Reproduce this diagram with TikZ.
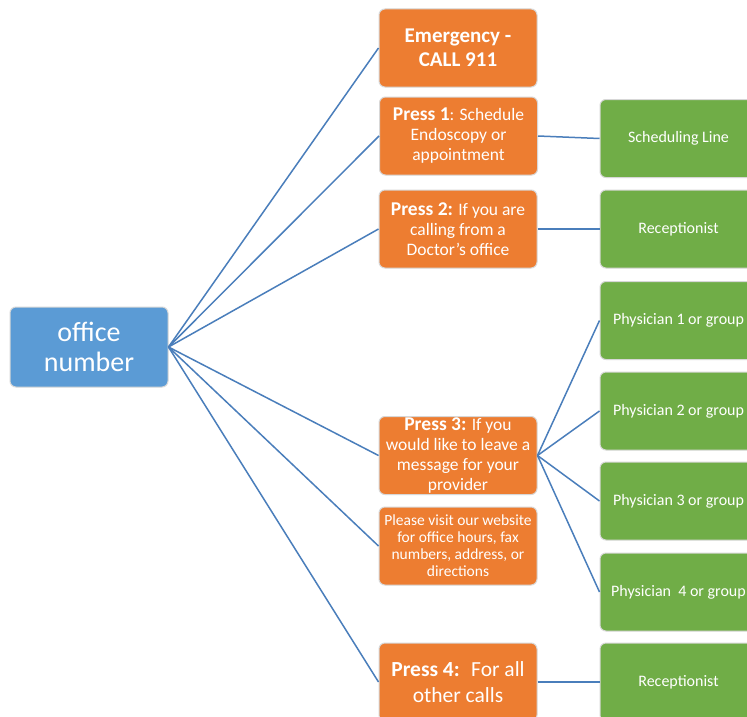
\documentclass[tikz,border=0pt]{standalone}
\usepackage{fontspec}
\setmainfont{Carlito}
\definecolor{cblue}{RGB}{91,155,213}
\definecolor{corange}{RGB}{237,125,49}
\definecolor{cgreen}{RGB}{112,173,71}
\definecolor{cline}{RGB}{74,126,187}
\definecolor{cedge}{RGB}{215,215,215}
\begin{document}
\begin{tikzpicture}[x=1pt,y=1pt,
  box/.style={rectangle, rounded corners=6pt, draw=cedge, line width=1pt, text=white, align=center, inner sep=1pt},
  rootbox/.style={box, fill=cblue, minimum width=158pt, minimum height=80pt, font=\fontsize{28}{30}\selectfont},
  obox/.style={box, fill=corange, minimum width=158pt, minimum height=78pt, font=\fontsize{17.5}{20}\selectfont},
  gbox/.style={box, fill=cgreen, minimum width=157pt, minimum height=78pt, font=\fontsize{16}{18}\selectfont},
  link/.style={cline, line width=1.5pt}]
\path[use as bounding box, clip] (0,0) rectangle (747,-717);
\fill[white] (0,0) rectangle (747,-717);

\node[rootbox] (root) at (89,-347) {office\\number};

\node[obox, font=\fontsize{21}{24}\selectfont\bfseries] (em) at (458,-48) {Emergency -\\CALL 911};
\node[obox] (p1) at (458.5,-136) {{\fontsize{19.5}{20}\selectfont\bfseries Press 1}: Schedule\\Endoscopy or\\appointment};
\node[obox] (p2) at (458,-229) {{\fontsize{19.5}{20}\selectfont\bfseries Press 2:} If you are\\calling from a\\Doctor's office};
\node[obox, inner sep=0pt] (p3) at (458,-455.5) {{\fontsize{19.5}{20}\selectfont\bfseries Press 3:} If you\\would like to leave a\\message for your\\provider};
\node[obox, font=\fontsize{15.5}{17}\selectfont] (web) at (458,-546) {Please visit our website\\for office hours, fax\\numbers, address, or\\directions};
\node[obox, font=\fontsize{21.5}{26}\selectfont] (p4) at (458,-682) {\textbf{Press 4:}~ For all\\other calls};

\node[gbox] (sched) at (678.5,-138.5) {Scheduling Line};
\node[gbox] (rec1) at (678.5,-229) {Receptionist};
\node[gbox] (ph1) at (678.5,-320.5) {Physician 1 or group};
\node[gbox] (ph2) at (678.5,-411) {Physician 2 or group};
\node[gbox] (ph3) at (678.5,-501) {Physician 3 or group};
\node[gbox] (ph4) at (678.5,-592) {Physician~ 4 or group};
\node[gbox] (rec2) at (678.5,-682) {Receptionist};

\foreach \t in {em,p1,p2,p3,web,p4} \draw[link] (root.east) -- (\t.west);
\draw[link] (p1.east) -- (sched.west);
\draw[link] (p2.east) -- (rec1.west);
\foreach \t in {ph1,ph2,ph3,ph4} \draw[link] (p3.east) -- (\t.west);
\draw[link] (p4.east) -- (rec2.west);
\end{tikzpicture}
\end{document}
